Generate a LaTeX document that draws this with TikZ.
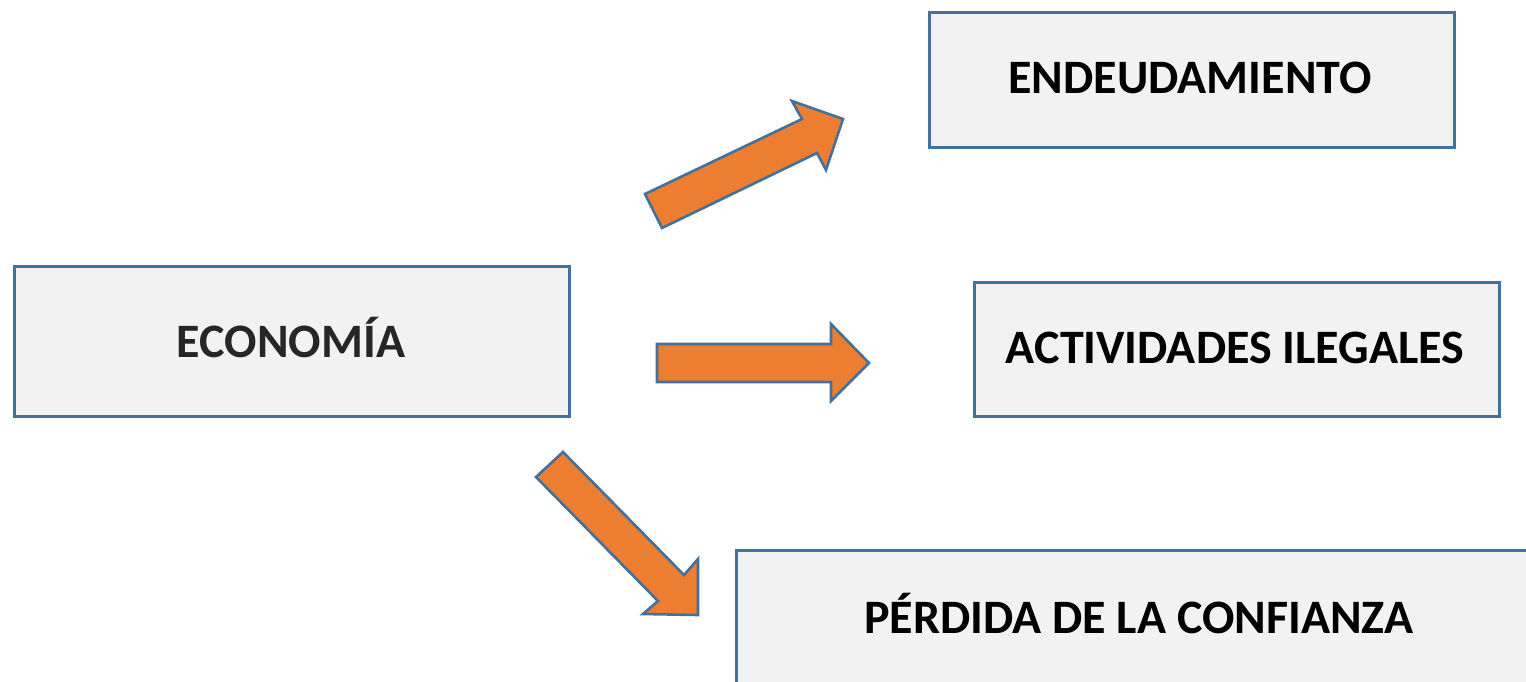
\documentclass[tikz,border=0pt]{standalone}
\usepackage{fontspec}
\setmainfont{Carlito}
\begin{document}
\begin{tikzpicture}[x=0.5pt,y=-0.5pt,
  box/.style={draw=boxline,fill=boxfill,line width=1.3pt,inner sep=0pt,anchor=north west},
  lbl/.style={font=\bfseries\fontsize{24}{28}\selectfont,text=black,anchor=base,inner sep=0pt},
  blockarrow/.style={draw=boxline,fill=arrowfill,line width=1.3pt,line join=miter}]
\definecolor{boxline}{HTML}{41719C}
\definecolor{boxfill}{HTML}{F2F2F2}
\definecolor{arrowfill}{HTML}{ED7D31}
\definecolor{darktext}{HTML}{262626}
\useasboundingbox (0,0) rectangle (1526,681);
% boxes
\node[box,minimum width=277.5pt,minimum height=75pt] (eco) at (13,265) {};
\node[box,minimum width=262.5pt,minimum height=67.5pt] (end) at (928,11) {};
\node[box,minimum width=262.5pt,minimum height=67pt] (act) at (973,281) {};
\node[box,minimum width=410pt,minimum height=80pt] (per) at (735,549) {};
% labels
\node[lbl,text=darktext] (ecot) at (291,357) {ECONOMÍA};
\node[lbl] (endt) at (1190,93) {ENDEUDAMIENTO};
\node[lbl] (actt) at (1235,363) {ACTIVIDADES ILEGALES};
\node[lbl] (pert) at (1139,633) {PÉRDIDA DE LA CONFIANZA};
% block arrows
\draw[blockarrow] (645,194) -- (802,119) -- (792,101) -- (843,119) -- (826,170) -- (817,153) -- (662,228) -- cycle;
\draw[blockarrow] (657,344) -- (831,344) -- (831,324) -- (869,363) -- (831,401) -- (831,382) -- (657,382) -- cycle;
\draw[blockarrow] (563,452) -- (684,575) -- (698,559) -- (698,615) -- (643,614) -- (658,601) -- (536,477) -- cycle;
\end{tikzpicture}
\end{document}
